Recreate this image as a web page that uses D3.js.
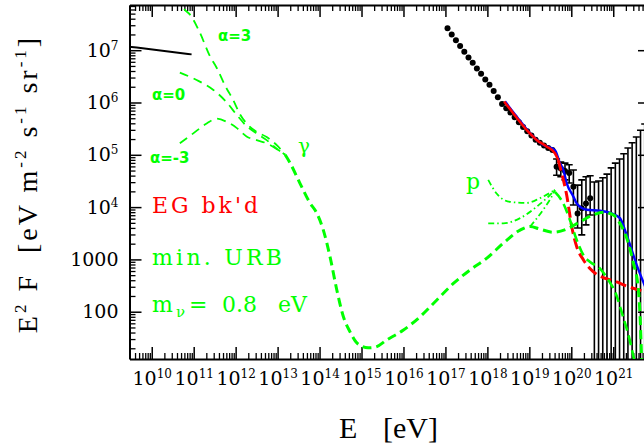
<!DOCTYPE html>
<html>
<head>
<meta charset="utf-8">
<script src="https://cdn.jsdelivr.net/npm/d3@7/dist/d3.min.js"></script>
<style>
  body { margin: 0; background: #fff; }
  svg { display: block; }
</style>
</head>
<body>
<svg id="chart" width="644" height="448"></svg>
<script>
// all values are log10(E / eV) and log10(E^2 F / eV m^-2 s^-1 sr^-1)
const blackLine = [[9.43, 7.07], [9.64, 7.05], [10.95, 6.92]];

const alpha3 = [[10.63, 8.05], [10.72, 7.86], [10.95, 7.64], [11.15, 7.33], [11.39, 6.88], [11.55, 6.66],
  [11.75, 6.32], [11.94, 6.05], [12.10, 5.78], [12.26, 5.60], [12.50, 5.44], [12.74, 5.34], [13.01, 5.16], [13.18, 5.00]];
const alpha0 = [[10.67, 6.57], [11.07, 6.43], [11.47, 6.24], [11.79, 6.00], [12.03, 5.76], [12.26, 5.55],
  [12.50, 5.41], [12.74, 5.28], [13.02, 5.09], [13.18, 5.00]];
const alphaM3 = [[10.67, 5.22], [10.99, 5.41], [11.31, 5.60], [11.55, 5.69], [11.79, 5.63], [12.03, 5.51],
  [12.26, 5.35], [12.50, 5.28], [12.74, 5.22], [13.02, 5.09], [13.18, 5.00]];

const gammaMain = [[13.18, 5.00], [13.30, 4.84], [13.53, 4.46], [13.77, 4.08], [13.93, 3.89], [14.09, 3.56],
  [14.25, 3.05], [14.41, 2.42], [14.57, 1.90], [14.73, 1.61], [14.87, 1.42], [15.01, 1.34], [15.16, 1.31],
  [15.32, 1.32], [15.60, 1.46], [16.00, 1.65], [16.39, 1.90], [16.79, 2.22], [17.19, 2.54], [17.59, 2.80],
  [17.98, 3.02], [18.38, 3.31], [18.78, 3.56], [19.02, 3.63], [19.25, 3.58], [19.57, 3.52], [19.89, 3.58],
  [20.21, 3.72], [20.52, 3.85], [20.76, 3.90], [21.00, 3.85], [21.16, 3.69], [21.36, 3.31], [21.48, 2.93],
  [21.60, 2.42], [21.64, 1.90], [21.68, 1.00]];

const pDescent = [[19.61, 4.29], [19.81, 4.07], [19.97, 3.75], [20.13, 3.37], [20.29, 3.08], [20.45, 2.95],
  [20.68, 2.83], [20.88, 2.61], [21.06, 2.35], [21.22, 1.94], [21.38, 1.50], [21.52, 1.00]];

const pTop = [[18.02, 4.52], [18.22, 4.26], [18.54, 4.10], [18.94, 4.08], [19.25, 4.17], [19.53, 4.29], [19.61, 4.33]];
const pMid = [[18.02, 3.69], [18.38, 3.69], [18.78, 3.79], [19.18, 4.01], [19.49, 4.23], [19.61, 4.33]];
const pLow = [[19.02, 3.63], [19.33, 3.95], [19.57, 4.26], [19.61, 4.33]];

const redSolid = [[18.40, 6.02], [18.62, 5.79], [18.94, 5.47], [19.18, 5.28], [19.41, 5.16], [19.61, 5.03], [19.69, 4.90]];
const redDash = [[19.69, 4.90], [19.77, 4.65], [19.89, 4.23], [20.01, 3.63], [20.13, 3.24], [20.29, 2.99],
  [20.45, 2.82], [20.61, 2.71], [20.84, 2.63], [21.08, 2.57], [21.32, 2.49], [21.55, 2.43], [21.88, 2.36]];

const blueLine = [[18.42, 6.02], [18.70, 5.73], [19.02, 5.41], [19.33, 5.19], [19.61, 5.09], [19.73, 4.84],
  [19.81, 4.71], [19.89, 4.46], [20.05, 4.20], [20.13, 4.07], [20.37, 3.95], [20.68, 3.93], [20.96, 3.88],
  [21.16, 3.79], [21.28, 3.56], [21.40, 3.28], [21.56, 2.89], [21.72, 2.56], [21.88, 2.25]];

// measured flux points
const dotLogE = [17.05, 17.15, 17.25, 17.35, 17.45, 17.55, 17.65, 17.75, 17.85, 17.95, 18.05, 18.15, 18.25,
  18.35, 18.45, 18.55, 18.65, 18.75, 18.85, 18.95, 19.05, 19.15, 19.25, 19.35, 19.45, 19.55];
const dotLogF = [7.42, 7.30, 7.19, 7.08, 6.97, 6.86, 6.76, 6.65, 6.55, 6.44, 6.34, 6.22, 6.10,
  5.97, 5.89, 5.81, 5.72, 5.62, 5.53, 5.45, 5.37, 5.29, 5.23, 5.18, 5.13, 5.09];

const errLogE = [19.65, 19.75, 19.85, 19.95, 20.05, 20.15, 20.25, 20.35, 20.45];
const errLogF = [4.77, 4.74, 4.69, 4.65, 4.39, 3.88, 3.98, 4.07, 4.17];
const errHi = [4.92, 4.86, 4.84, 4.81, 4.71, 4.42, 4.52, 4.58, 4.60];
const errLo = [4.61, 4.58, 4.52, 4.46, 4.04, 3.60, 3.47, 3.66, 3.85];

// upper limits (bars from the bottom)
const limLogE = [20.55, 20.65, 20.75, 20.85, 20.95, 21.05, 21.15, 21.25, 21.35, 21.45, 21.55, 21.65, 21.75];
const limTop = [4.48, 4.50, 4.56, 4.63, 4.75, 4.84, 4.92, 5.02, 5.13, 5.23, 5.34, 5.47, 5.59];

const xExps = [10, 11, 12, 13, 14, 15, 16, 17, 18, 19, 20, 21];
const yExps = [2, 3, 4, 5, 6, 7];

const GREEN = "#00ff00", RED = "#ff0000", BLUE = "#0000ff";

const svg = d3.select("#chart");
const L = 129.5, R = 650, T = 5, B = 359;

const x = d3.scaleLog().domain([Math.pow(10, 9.47), Math.pow(10, 21.876)]).range([L, R]);
const y = d3.scaleLog().domain([Math.pow(10, 1.096), Math.pow(10, 7.864)]).range([B, T]);
const px = v => x(Math.pow(10, v));
const py = v => y(Math.pow(10, v));

svg.append("defs").append("clipPath").attr("id", "clip")
  .append("rect").attr("x", L).attr("y", T).attr("width", R - L).attr("height", B - T);

// tick values
const xMajor = xExps.map(e => Math.pow(10, e));
const xMinor = [];
for (let e = 9; e <= 21; e++) for (let m = 2; m <= 9; m++) {
  const v = m * Math.pow(10, e);
  if (v > x.domain()[0] && v < x.domain()[1]) xMinor.push(v);
}
const yMajor = yExps.map(e => Math.pow(10, e));
const yMinor = [];
for (let e = 1; e <= 7; e++) for (let m = 2; m <= 9; m++) {
  const v = m * Math.pow(10, e);
  if (v > y.domain()[0] && v < y.domain()[1]) yMinor.push(v);
}

function styleAxis(g) {
  g.select(".domain").attr("stroke-width", 2);
  g.selectAll(".tick line").attr("stroke-width", 1.5);
  g.attr("font-family", "DejaVu Serif").attr("font-size", 19);
}

// bottom axis
const gx = svg.append("g").attr("transform", `translate(0,${B})`)
  .call(d3.axisBottom(x).tickValues(xMajor).tickSizeInner(-12).tickSizeOuter(0).tickPadding(13).tickFormat(() => ""))
  .call(styleAxis);
gx.selectAll(".tick text").each(function (d) {
  const t = d3.select(this);
  t.append("tspan").text("10");
  t.append("tspan").attr("font-size", 12).attr("dy", -7).text(Math.round(Math.log10(d)));
});
svg.append("g").attr("transform", `translate(0,${B})`)
  .call(d3.axisBottom(x).tickValues(xMinor).tickSizeInner(-6).tickSizeOuter(0).tickFormat(() => ""))
  .call(g => g.select(".domain").remove())
  .selectAll(".tick line").attr("stroke-width", 1.3);

// top axis
svg.append("g").attr("transform", `translate(0,${T})`)
  .call(d3.axisTop(x).tickValues(xMajor).tickSizeInner(-12).tickSizeOuter(0).tickFormat(() => ""))
  .call(styleAxis);
svg.append("g").attr("transform", `translate(0,${T})`)
  .call(d3.axisTop(x).tickValues(xMinor).tickSizeInner(-6).tickSizeOuter(0).tickFormat(() => ""))
  .call(g => g.select(".domain").remove())
  .selectAll(".tick line").attr("stroke-width", 1.3);

// left axis
const gy = svg.append("g").attr("transform", `translate(${L},0)`)
  .call(d3.axisLeft(y).tickValues(yMajor).tickSizeInner(-12).tickSizeOuter(0).tickPadding(11).tickFormat(() => ""))
  .call(styleAxis);
gy.selectAll(".tick text").each(function (d) {
  const t = d3.select(this);
  const e = Math.round(Math.log10(d));
  if (e <= 3) {
    t.text(String(Math.round(d)));
  } else {
    t.append("tspan").text("10");
    t.append("tspan").attr("font-size", 12).attr("dy", -7).text(e);
  }
});
svg.append("g").attr("transform", `translate(${L},0)`)
  .call(d3.axisLeft(y).tickValues(yMinor).tickSizeInner(-6).tickSizeOuter(0).tickFormat(() => ""))
  .call(g => g.select(".domain").remove())
  .selectAll(".tick line").attr("stroke-width", 1.3);

// right axis
svg.append("g").attr("transform", `translate(${R},0)`)
  .call(d3.axisRight(y).tickValues(yMajor).tickSizeInner(-12).tickSizeOuter(0).tickFormat(() => ""))
  .call(styleAxis);

// plot area
const plot = svg.append("g").attr("clip-path", "url(#clip)");
const line = d3.line().x(d => px(d[0])).y(d => py(d[1])).curve(d3.curveMonotoneX);

function drawCurve(data, color, width, dash) {
  plot.append("path").datum(data)
    .attr("d", line)
    .attr("fill", "none")
    .attr("stroke", color)
    .attr("stroke-width", width)
    .attr("stroke-dasharray", dash || null);
}

// black solid line at low energy
drawCurve(blackLine, "#000", 2);

// upper-limit bars
const capW = 3.5;
limLogE.forEach((e, i) => {
  const cx = px(e);
  plot.append("line").attr("x1", cx).attr("x2", cx).attr("y1", y.range()[0]).attr("y2", py(limTop[i]))
    .attr("stroke", "#000").attr("stroke-width", 1.6);
  plot.append("line").attr("x1", cx - capW).attr("x2", cx + capW).attr("y1", py(limTop[i])).attr("y2", py(limTop[i]))
    .attr("stroke", "#000").attr("stroke-width", 1.6);
});

// error bars for high-energy points
errLogE.forEach((e, i) => {
  const cx = px(e);
  plot.append("line").attr("x1", cx).attr("x2", cx).attr("y1", py(errLo[i])).attr("y2", py(errHi[i]))
    .attr("stroke", "#000").attr("stroke-width", 1.6);
  [errLo[i], errHi[i]].forEach(v => {
    plot.append("line").attr("x1", cx - capW).attr("x2", cx + capW).attr("y1", py(v)).attr("y2", py(v))
      .attr("stroke", "#000").attr("stroke-width", 1.6);
  });
});

// data dots
plot.selectAll("circle.dot")
  .data(dotLogE.map((e, i) => [e, dotLogF[i]]).concat(errLogE.map((e, i) => [e, errLogF[i]])))
  .enter().append("circle")
  .attr("class", "dot")
  .attr("cx", d => px(d[0]))
  .attr("cy", d => py(d[1]))
  .attr("r", 3)
  .attr("fill", "#000");

// model curves
drawCurve(blueLine, BLUE, 2.4);
drawCurve(redSolid, RED, 2.6);
drawCurve(redDash, RED, 3, "11,5");

drawCurve(alpha3, GREEN, 1.8, "9,6");
drawCurve(alpha0, GREEN, 1.8, "9,6");
drawCurve(alphaM3, GREEN, 1.8, "9,6");
drawCurve(gammaMain, GREEN, 3, "9,5");
drawCurve(pDescent, GREEN, 2.6, "10,5");
drawCurve(pTop, GREEN, 1.8, "6,3,1.5,3");
drawCurve(pMid, GREEN, 1.8, "6,3,1.5,3");
drawCurve(pLow, GREEN, 1.8, "6,3,1.5,3");

// labels inside the plot
const ann = svg.append("g");
ann.append("text").attr("x", 218).attr("y", 41).text("α=3")
  .attr("font-family", "DejaVu Sans").attr("font-weight", "bold").attr("font-size", 15).attr("fill", GREEN);
ann.append("text").attr("x", 152).attr("y", 100).text("α=0")
  .attr("font-family", "DejaVu Sans").attr("font-weight", "bold").attr("font-size", 15).attr("fill", GREEN);
ann.append("text").attr("x", 150).attr("y", 163).text("α=-3")
  .attr("font-family", "DejaVu Sans").attr("font-weight", "bold").attr("font-size", 15).attr("fill", GREEN);
ann.append("text").attr("x", 298).attr("y", 153).text("γ")
  .attr("font-family", "DejaVu Serif").attr("font-size", 20).attr("fill", GREEN);
ann.append("text").attr("x", 466).attr("y", 189).text("p")
  .attr("font-family", "DejaVu Serif").attr("font-size", 22).attr("fill", GREEN);

ann.append("text").attr("x", 152).attr("y", 212.5).text("EG bk'd")
  .attr("textLength", 106).attr("lengthAdjust", "spacing")
  .attr("font-family", "DejaVu Serif").attr("font-size", 22).attr("fill", RED);
ann.append("text").attr("x", 152).attr("y", 265).text("min. URB")
  .attr("textLength", 130).attr("lengthAdjust", "spacing")
  .attr("font-family", "DejaVu Serif").attr("font-size", 22).attr("fill", GREEN);
const mnu = ann.append("text").attr("y", 311.5)
  .attr("font-family", "DejaVu Serif").attr("font-size", 22).attr("fill", GREEN);
mnu.append("tspan").attr("x", 152).text("m");
mnu.append("tspan").attr("x", 176).attr("dy", 5).attr("font-size", 15).text("ν");
mnu.append("tspan").attr("x", 189).attr("dy", -5).text("=");
mnu.append("tspan").attr("x", 222).text("0.8");
mnu.append("tspan").attr("x", 278).text("eV");

// axis titles
const xt = svg.append("text").attr("y", 438)
  .attr("font-family", "Liberation Serif").attr("font-size", 30).attr("fill", "#000");
xt.append("tspan").attr("x", 339).text("E");
xt.append("tspan").attr("x", 383).text("[eV]");

const yt = svg.append("text")
  .attr("transform", "translate(37,184) rotate(-90)")
  .attr("text-anchor", "middle")
  .attr("font-family", "Liberation Serif").attr("font-size", 28)
  .attr("letter-spacing", 3)
  .style("white-space", "pre")
  .attr("fill", "#000");
yt.append("tspan").text("E");
yt.append("tspan").attr("font-size", 17).attr("dy", -11).text("2");
yt.append("tspan").attr("dy", 11).text(" F  [eV m");
yt.append("tspan").attr("font-size", 17).attr("dy", -11).text("-2");
yt.append("tspan").attr("dy", 11).text(" s");
yt.append("tspan").attr("font-size", 17).attr("dy", -11).text("-1");
yt.append("tspan").attr("dy", 11).text(" sr");
yt.append("tspan").attr("font-size", 17).attr("dy", -11).text("-1");
yt.append("tspan").attr("dy", 11).text("]");
</script>
</body>
</html>
